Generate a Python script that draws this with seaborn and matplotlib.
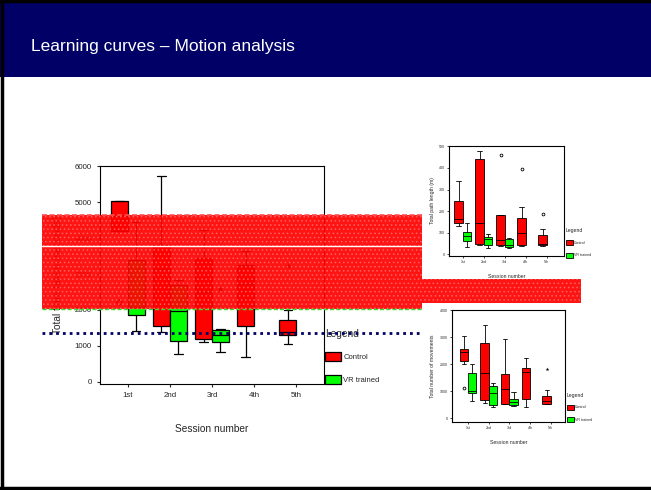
import numpy as np
import pandas as pd
import matplotlib.pyplot as plt
from matplotlib.patches import Rectangle, Patch
from matplotlib.lines import Line2D
import seaborn as sns

# sessions / groups shared by the three panels
sessions = ["1st", "2nd", "3rd", "4th", "5th"]
groups = ["Control", "VR trained"]
palette = {"Control": "#ff0000", "VR trained": "#00ff00"}

# main panel: total time, five-number summaries (low whisker, q1, median, q3, high whisker)
time_control = [[4210, 4210, 4630, 5040, 5040],
                [1390, 1550, 3150, 3800, 5740],
                [1110, 1180, 2500, 3445, 4230],
                [695, 1550, 2730, 3260, 3640],
                [1050, 1300, 1390, 1730, 2010]]
time_vr = [[1420, 1870, 2085, 3400, 4460],
           [770, 1140, 1975, 2690, 2840],
           [815, 1110, 1315, 1435, 1470]]
time_circles = [("1st", "Control", 2230)]
time_stars = [("3rd", "VR trained", 2590), ("5th", "Control", 3210)]

# top right: total path length (m)
path_control = [[130, 143, 165, 247, 338],
                [41, 46, 143, 440, 480],
                [39, 42, 66, 183, 183],
                [39, 42, 99, 170, 220],
                [39, 42, 48, 91, 117]]
path_vr = [[35, 60, 85, 103, 146],
           [28, 43, 72, 82, 95],
           [29, 35, 45, 72, 76]]
path_circles = [("3rd", "Control", 458), ("4th", "Control", 395), ("5th", "Control", 187)]
path_stars = []

# bottom right: total number of movements
moves_control = [[2000, 2110, 2455, 2567, 3060],
                 [578, 678, 1667, 2800, 3467],
                 [541, 541, 1074, 1652, 2937],
                 [407, 704, 1726, 1852, 2244],
                 [530, 530, 652, 826, 1037]]
moves_vr = [[641, 926, 1011, 1667, 2000],
            [407, 481, 948, 1196, 1319],
            [444, 504, 604, 704, 974]]
moves_circles = [("1st", "Control", 1122)]
moves_stars = [("5th", "Control", 1837)]


def long_table(control, vr):
    rows = []
    for s, vals in zip(sessions, control):
        rows += [(s, "Control", v) for v in vals]
    for s, vals in zip(sessions, vr):
        rows += [(s, "VR trained", v) for v in vals]
    return pd.DataFrame(rows, columns=["session", "group", "value"])


def draw_panel(ax, control, vr, circles, stars, lw, msize):
    df = long_table(control, vr)
    sns.boxplot(data=df, x="session", y="value", hue="group", order=sessions,
                hue_order=groups, palette=palette, whis=(0, 100), width=0.8, gap=0,
                linecolor="black", linewidth=lw, saturation=1, showfliers=False,
                legend=False, ax=ax)
    if circles:
        c = pd.DataFrame(circles, columns=["session", "group", "value"])
        sns.stripplot(data=c, x="session", y="value", hue="group", order=sessions,
                      hue_order=groups, dodge=True, jitter=False, marker="o",
                      palette={g: "white" for g in groups}, edgecolor="black",
                      linewidth=lw, size=msize, legend=False, ax=ax)
    if stars:
        st = pd.DataFrame(stars, columns=["session", "group", "value"])
        sns.stripplot(data=st, x="session", y="value", hue="group", order=sessions,
                      hue_order=groups, dodge=True, jitter=False, marker="*",
                      palette={g: "black" for g in groups}, size=msize * 1.4,
                      legend=False, ax=ax)
    for sp in ax.spines.values():
        sp.set_visible(True)
        sp.set_color("black")


def panel_legend(fig, x, y, fs, tfs, hl, hh, ls, lw):
    handles = [Patch(facecolor=palette[g], edgecolor="black", linewidth=lw) for g in groups]
    fig.legend(handles, groups, title="Legend", loc="upper left", bbox_to_anchor=(x, y),
               bbox_transform=fig.transFigure, frameon=False, fontsize=fs,
               title_fontsize=tfs, handlelength=hl, handleheight=hh, labelspacing=ls,
               handletextpad=0.3, borderpad=0, borderaxespad=0, alignment="left")


sns.set_style("ticks")
plt.rcParams['font.family'] = ['Liberation Sans', 'DejaVu Sans']

fig = plt.figure(figsize=(6.51, 4.90), dpi=100)
W, H = 651, 490

# slide title band
fig.add_artist(Rectangle((0, 1 - 77 / H), 1, 77 / H, transform=fig.transFigure,
                         facecolor="#000066", edgecolor="none", zorder=0))
fig.text(31 / W, 1 - 47 / H, "Learning curves \u2013 Motion analysis", color="white",
         fontsize=12.5, va="center", ha="left")
# slide frame
for xs, ys in [([0.003, 0.003], [0.004, 0.998]), ([0, 1], [0.004, 0.004]), ([0, 1], [0.998, 0.998])]:
    fig.add_artist(Line2D(xs, ys, transform=fig.transFigure, color="black", linewidth=2.5))

# main panel
ax = fig.add_axes([100 / W, 1 - 384 / H, 224 / W, 218 / H])
draw_panel(ax, time_control, time_vr, time_circles, time_stars, 0.9, 3.5)
ax.set_ylim(-64, 6010)
ax.set_xlim(-0.66, 4.66)
ax.set_yticks(range(0, 6001, 1000))
ax.tick_params(labelsize=5.7, length=2.5, width=0.8)
ax.set_xlabel("Session number", fontsize=7.3, labelpad=18)
ax.set_ylabel("Total time taken (seconds)", fontsize=7.3, labelpad=8)
panel_legend(fig, 325 / W, 1 - 329 / H, 5.5, 7.3, 2.1, 1.4, 1.75, 0.9)

# top right panel
ax2 = fig.add_axes([449.3 / W, 1 - 256.3 / H, 114.7 / W, 110.6 / H])
draw_panel(ax2, path_control, path_vr, path_circles, path_stars, 0.6, 2.0)
ax2.set_ylim(-9, 503)
ax2.set_xlim(-0.64, 4.82)
ax2.set_yticks(range(0, 501, 100))
ax2.tick_params(labelsize=2.6, length=1.5, width=0.6, pad=1.5)
ax2.set_xlabel("Session number", fontsize=3.7, labelpad=7)
ax2.set_ylabel("Total path length (m)", fontsize=3.7, labelpad=3)
panel_legend(fig, 566 / W, 1 - 228 / H, 2.6, 3.7, 2.0, 1.8, 2.0, 0.6)

# bottom right panel
ax3 = fig.add_axes([451.7 / W, 1 - 422.3 / H, 113.3 / W, 112 / H])
draw_panel(ax3, moves_control, moves_vr, moves_circles, moves_stars, 0.6, 2.0)
ax3.set_ylim(-148, 4000)
ax3.set_xlim(-0.79, 4.69)
ax3.set_yticks(range(0, 4001, 1000))
ax3.tick_params(labelsize=2.6, length=1.5, width=0.6, pad=1.5)
ax3.set_xlabel("Session number", fontsize=3.7, labelpad=7)
ax3.set_ylabel("Total number of movements", fontsize=3.7, labelpad=3)
panel_legend(fig, 566.7 / W, 1 - 392.5 / H, 2.6, 3.7, 2.0, 1.8, 2.0, 0.6)

# red overlay band across the slide
plt.rcParams['hatch.linewidth'] = 0.6
for (x0, y0, x1, y1) in [(41.7, 215, 421.7, 309), (421.7, 279, 581, 303)]:
    box = (x0 / W, 1 - y1 / H)
    fig.add_artist(Rectangle(box, (x1 - x0) / W, (y1 - y0) / H, transform=fig.transFigure,
                             facecolor="#ff0000", edgecolor="none", alpha=0.92, zorder=5))
    fig.add_artist(Rectangle(box, (x1 - x0) / W, (y1 - y0) / H, transform=fig.transFigure,
                             facecolor="none", edgecolor="#ff6060", linewidth=0,
                             hatch="....", zorder=6))
fig.add_artist(Line2D([41.7 / W, 421.7 / W], [1 - 215 / H] * 2, transform=fig.transFigure,
                      color="#ff5050", linewidth=1.2, linestyle=(0, (3, 1.5)), zorder=7))
fig.add_artist(Line2D([41.7 / W, 421.7 / W], [1 - 309 / H] * 2, transform=fig.transFigure,
                      color="#33dd33", linewidth=1.0, linestyle=(0, (3, 1.5)), zorder=7))
fig.add_artist(Line2D([41.7 / W, 421.7 / W], [1 - 246.3 / H] * 2, transform=fig.transFigure,
                      color="white", linewidth=1.0, zorder=7))
# navy dotted rule
fig.add_artist(Line2D([42 / W, 421.7 / W], [1 - 333.3 / H] * 2, transform=fig.transFigure,
                      color="#000066", linewidth=2.0, linestyle=(0, (1, 1.45)),
                      dash_capstyle="butt", zorder=7))

fig.savefig("out.png", dpi=100)
